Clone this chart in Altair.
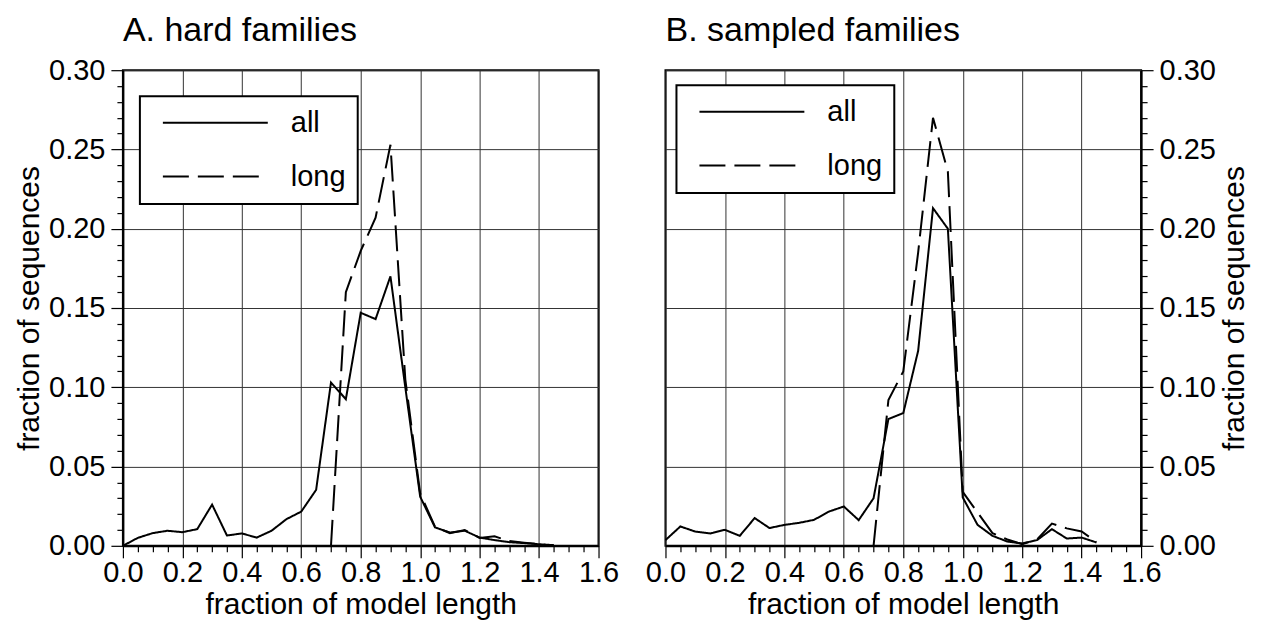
import altair as alt
import pandas as pd

FONT = "Liberation Sans"

# model length fraction (bin centres)
X_ALL = [0.00, 0.05, 0.10, 0.15, 0.20, 0.25, 0.30, 0.35, 0.40, 0.45,
         0.50, 0.55, 0.60, 0.65, 0.70, 0.75, 0.80, 0.85, 0.90, 0.95,
         1.00, 1.05, 1.10, 1.15, 1.20, 1.25, 1.30, 1.35, 1.40, 1.45]
X_LONG = [0.70, 0.75, 0.80, 0.85, 0.90, 0.95, 1.00, 1.05,
          1.10, 1.15, 1.20, 1.25, 1.30, 1.35, 1.40, 1.45]

# A. hard families
A_ALL = [0.000, 0.005, 0.008, 0.0095, 0.0086, 0.0105, 0.026, 0.0065, 0.0078, 0.0052,
         0.0095, 0.0168, 0.0216, 0.0353, 0.103, 0.0925, 0.147, 0.143, 0.170, 0.100,
         0.031, 0.0116, 0.0084, 0.0095, 0.0052, 0.0036, 0.0023, 0.0017, 0.0010, 0.0004]
A_LONG = [0.000, 0.160, 0.186, 0.207, 0.253, 0.105, 0.033, 0.012,
          0.008, 0.010, 0.005, 0.006, 0.003, 0.002, 0.001, 0.000]

# B. sampled families
B_ALL = [0.0036, 0.0122, 0.0090, 0.0078, 0.0101, 0.0063, 0.0175, 0.0112, 0.0132, 0.0145,
         0.0164, 0.0216, 0.0248, 0.0162, 0.030, 0.080, 0.0837, 0.123, 0.213, 0.200,
         0.0305, 0.0132, 0.0063, 0.0027, 0.0015, 0.0036, 0.0105, 0.0046, 0.0052, 0.0021]
B_LONG = [0.000, 0.092, 0.110, 0.185, 0.270, 0.236, 0.034, 0.021,
          0.008, 0.004, 0.001, 0.004, 0.014, 0.011, 0.009, 0.0025]

SERIES = ["all", "long"]
X_TICKS = [0.0, 0.2, 0.4, 0.6, 0.8, 1.0, 1.2, 1.4, 1.6]
X_MINOR = [0.05, 0.1, 0.15, 0.25, 0.3, 0.35, 0.45, 0.5, 0.55, 0.65, 0.7, 0.75,
           0.85, 0.9, 0.95, 1.05, 1.1, 1.15, 1.25, 1.3, 1.35, 1.45, 1.5, 1.55]
Y_TICKS = [0.0, 0.05, 0.10, 0.15, 0.20, 0.25, 0.30]
Y_MINOR = [0.01, 0.02, 0.03, 0.04, 0.06, 0.07, 0.08, 0.09, 0.11, 0.12, 0.13, 0.14,
           0.16, 0.17, 0.18, 0.19, 0.21, 0.22, 0.23, 0.24, 0.26, 0.27, 0.28, 0.29]


def make_df(all_vals, long_vals):
    rows = [{"x": x, "y": y, "series": "all"} for x, y in zip(X_ALL, all_vals)]
    rows += [{"x": x, "y": y, "series": "long"} for x, y in zip(X_LONG, long_vals)]
    return pd.DataFrame(rows)


def panel(all_vals, long_vals, title, y_orient, lx, ly):
    df = make_df(all_vals, long_vals)
    xscale = alt.Scale(domain=[0, 1.6], nice=False, zero=False)
    yscale = alt.Scale(domain=[0, 0.30], nice=False)
    base = alt.Chart(df)
    ytitle_base = "top" if y_orient == "right" else "bottom"
    lines = base.mark_line(color="black", strokeWidth=2, strokeJoin="miter").encode(
        x=alt.X("x:Q", scale=xscale,
                axis=alt.Axis(values=X_TICKS, format=".1f", title="fraction of model length",
                              grid=True, tickSize=12, orient="bottom", labelPadding=1,
                              titlePadding=2, labelOverlap=False, labelFlush=False)),
        y=alt.Y("y:Q", scale=yscale,
                axis=alt.Axis(values=Y_TICKS, format=".2f", title="fraction of sequences",
                              grid=True, tickSize=12, orient=y_orient, labelPadding=6,
                              titlePadding=4, titleAngle=270, titleBaseline=ytitle_base,
                              labelOverlap=False, labelFlush=False)),
        strokeDash=alt.StrokeDash(
            "series:N",
            scale=alt.Scale(domain=SERIES, range=[[1, 0], [26, 9]]),
            legend=alt.Legend(
                title=None, orient="none", legendX=lx, legendY=ly, direction="vertical",
                symbolType="stroke", symbolSize=11025, symbolStrokeWidth=2,
                symbolStrokeColor="black", symbolOffset=10,
                labelFont=FONT, labelFontSize=29, labelColor="black", labelOffset=22,
                labelExpr="datum.label + '\u2002\u2009\u2009'",
                padding=12, rowPadding=24, clipHeight=29,
                strokeColor="black", fillColor="white",
            ),
        ),
        order=alt.Order("x:Q"),
    )
    minor = base.mark_point(opacity=0).encode(
        x=alt.X("x:Q", scale=xscale,
                axis=alt.Axis(values=X_MINOR, labels=False, domain=False, grid=False,
                              tickSize=6, title=None, orient="bottom")),
        y=alt.Y("y:Q", scale=yscale,
                axis=alt.Axis(values=Y_MINOR, labels=False, domain=False, grid=False,
                              tickSize=6, title=None, orient=y_orient)),
    )
    return alt.layer(lines, minor).resolve_axis(x="independent", y="independent").properties(
        width=476, height=476,
        title=alt.TitleParams(title, anchor="start", frame="group", fontSize=34,
                              fontWeight="normal", font=FONT, color="black",
                              baseline="alphabetic", offset=-19),
    )


left = panel(A_ALL, A_LONG, "A. hard families", "left", 17, 26)
right = panel(B_ALL, B_LONG, "B. sampled families", "right", 11, 15)

chart = alt.hconcat(left, right, spacing=23).resolve_scale(
    strokeDash="independent").resolve_legend(strokeDash="independent").configure_view(
    stroke="black", strokeWidth=2
).configure_axis(
    labelFont=FONT, titleFont=FONT, labelFontSize=29, titleFontSize=30,
    titleFontWeight="normal", labelColor="black", titleColor="black",
    domainColor="black", domainWidth=2, tickColor="black", tickWidth=1.2,
    gridColor="#333333", gridWidth=1, gridOpacity=1,
).configure_legend(strokeWidth=2).properties(
    padding={"left": 5, "top": 5, "right": 2, "bottom": 2})

chart.save("out.html", embed_options={"renderer": "svg", "actions": False})
